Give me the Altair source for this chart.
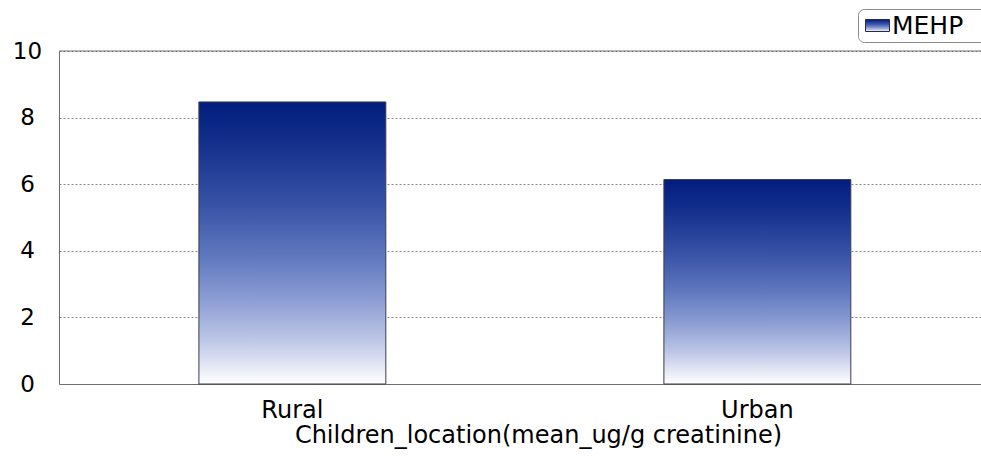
import altair as alt
import pandas as pd

# Mean MEHP concentration by where the children live
locations = ["Rural", "Urban"]
mehp_mean = [8.47, 6.14]
series_name = "MEHP"
y_ticks = [0, 2, 4, 6, 8, 10]

FONT = "DejaVu Sans, Verdana, sans-serif"
AXIS_GREY = "#6e6e6e"

df = pd.DataFrame({"location": locations, "mean": mehp_mean})

# Dark navy at the top of each bar fading to white at the baseline
bar_gradient = alt.LinearGradient(
    gradient="linear",
    x1=0, x2=0, y1=0, y2=1,
    stops=[
        alt.GradientStop(color="#021d7d", offset=0.0),
        alt.GradientStop(color="#14308c", offset=0.15),
        alt.GradientStop(color="#3550a4", offset=0.35),
        alt.GradientStop(color="#6078bf", offset=0.55),
        alt.GradientStop(color="#8c9dd3", offset=0.70),
        alt.GradientStop(color="#bfc8e7", offset=0.85),
        alt.GradientStop(color="#f3f4fa", offset=0.97),
        alt.GradientStop(color="#ffffff", offset=1.0),
    ],
)

x_enc = alt.X(
    "location:N",
    sort=locations,
    scale=alt.Scale(paddingInner=0.598, paddingOuter=0.2904, align=0.518),
    axis=alt.Axis(
        title="Children_location(mean_ug/g creatinine)",
        labelAngle=0,
        ticks=False,
        tickSize=0,
        labelFontSize=24,
        titleFontSize=24,
        labelPadding=14,
        titlePadding=1,
        titleX=479,
        titleAlign="center",
        domainColor=AXIS_GREY,
    ),
)

y_enc = alt.Y(
    "mean:Q",
    scale=alt.Scale(domain=[0, 10], nice=False),
    axis=alt.Axis(
        title=None,
        values=y_ticks,
        ticks=False,
        tickSize=0,
        labelFontSize=23,
        labelAlign="center",
        labelBaseline="middle",
        labelPadding=32,
        domainColor=AXIS_GREY,
        grid=True,
        gridColor="#8a8a8a",
        gridDash=[2, 2],
        gridWidth=1,
    ),
)

bars = alt.Chart(df).mark_bar(
    fill=bar_gradient, stroke="#3c3c4c", strokeWidth=1
).encode(x=x_enc, y=y_enc)

# Solid frame line along the top of the plot area
top_line = alt.Chart(alt.Data(values=[{}])).mark_rule(
    color=AXIS_GREY, strokeWidth=1
).encode(y=alt.datum(10), x=alt.value(0), x2=alt.value(922))

# Legend box with a gradient swatch
one = alt.Data(values=[{}])
legend_box = alt.Chart(one).mark_rect(
    fill="white", stroke="#8c8c8c", strokeWidth=1, cornerRadius=6
).encode(x=alt.value(799.5), x2=alt.value(960), y=alt.value(-41.5), y2=alt.value(-8.5))

legend_swatch = alt.Chart(one).mark_rect(
    fill=bar_gradient, stroke="#2a2a40", strokeWidth=1
).encode(x=alt.value(806.5), x2=alt.value(830.5), y=alt.value(-31.5), y2=alt.value(-19.5))

legend_text = alt.Chart(one).mark_text(
    text=series_name, align="left", baseline="alphabetic",
    font=FONT, fontSize=25, color="black"
).encode(x=alt.value(833), y=alt.value(-17))

chart = alt.layer(
    bars, top_line, legend_box, legend_swatch, legend_text
).properties(
    width=922,
    height=333,
    padding={"left": 59, "top": 51, "right": 0, "bottom": 84},
    autosize=alt.AutoSizeParams(type="none"),
).configure_view(
    stroke=None
).configure_axis(
    labelFont=FONT,
    titleFont=FONT,
    labelColor="black",
    titleColor="black",
    titleFontWeight="normal",
)

chart.save("out.html", embed_options={"renderer": "svg", "actions": False})
